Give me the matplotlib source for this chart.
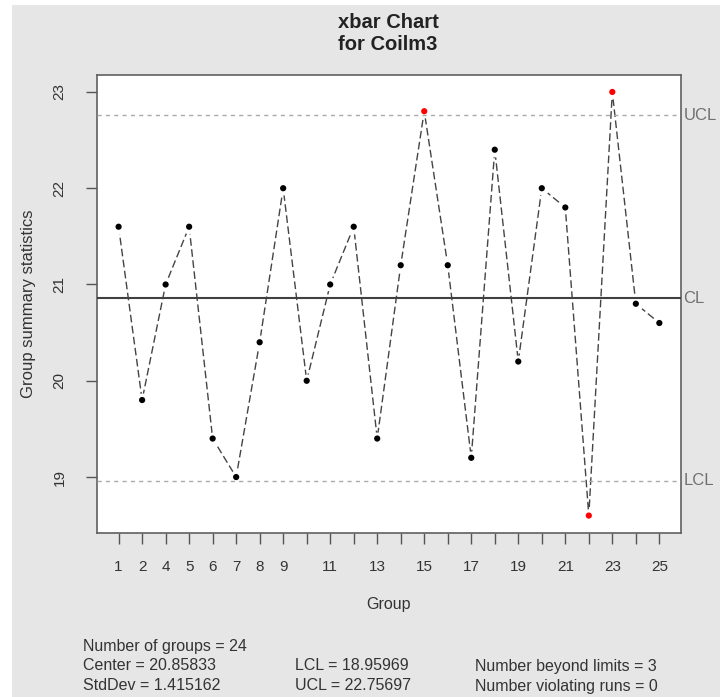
import matplotlib
matplotlib.use("Agg")
import matplotlib.pyplot as plt
from matplotlib.patches import Rectangle

plt.rcParams['font.family'] = ['Liberation Sans', 'DejaVu Sans']

# group numbers (group 3 is missing) and the group means
groups = [1, 2, 4, 5, 6, 7, 8, 9, 10, 11, 12, 13, 14, 15, 16, 17, 18, 19, 20, 21, 22, 23, 24, 25]
means = [21.6, 19.8, 21.0, 21.6, 19.4, 19.0, 20.4, 22.0, 20.0, 21.0, 21.6, 19.4,
         21.2, 22.8, 21.2, 19.2, 22.4, 20.2, 22.0, 21.8, 18.6, 23.0, 20.8, 20.6]
shown_labels = ['1', '2', '4', '5', '6', '7', '8', '9', '', '11', '', '13', '', '15',
                '', '17', '', '19', '', '21', '', '23', '', '25']

center = 20.85833
lcl = 18.95969
ucl = 22.75697
std_dev = 1.415162
n_beyond = 3
n_runs = 0

fig = plt.figure(figsize=(7.28, 6.97), dpi=100)
fig.patch.set_facecolor('white')
fig.patches.append(Rectangle((12 / 728, 0), (720 - 12) / 728, 1 - 5 / 697,
                             transform=fig.transFigure, facecolor='#e6e6e6',
                             edgecolor='none', zorder=-10))

ax = fig.add_axes([0.1332, 0.236, 0.8022, 0.6564])
ax.set_facecolor('white')

idx = list(range(1, len(groups) + 1))
ax.plot(idx, means, color='#444444', lw=1.0, ls=(0, (5.5, 2.5)), zorder=2)
# white discs leave the little gaps around each point, like R's type="b"
ax.plot(idx, means, ls='none', marker='o', ms=9, mfc='white', mec='white', zorder=2.1)

ax.axhline(center, color='#404040', lw=1.5, zorder=3)
ax.axhline(ucl, color='#aaaaaa', lw=1.0, ls=(0, (3, 3)), zorder=3)
ax.axhline(lcl, color='#aaaaaa', lw=1.0, ls=(0, (3, 3)), zorder=3)

colors = ['red' if (m > ucl or m < lcl) else 'black' for m in means]
ax.scatter(idx, means, s=20, c=colors, zorder=4, linewidths=0)

ax.set_xlim(0.08, len(groups) + 0.92)
ax.set_ylim(18.424, 23.176)
ax.set_xticks(idx)
ax.set_xticklabels(shown_labels)
ax.set_yticks([19, 20, 21, 22, 23])
ax.set_yticklabels(['19', '20', '21', '22', '23'], rotation=90, va='center')
ax.tick_params(axis='both', colors='#555555', labelcolor='#333333', labelsize=11,
               length=8, width=1, direction='out')
ax.tick_params(axis='x', pad=11.5)
ax.tick_params(axis='y', pad=14)
for s in ax.spines.values():
    s.set_color('#606060')
    s.set_linewidth(1.2)

ax.set_xlabel('Group', fontsize=11.5, color='#333333', labelpad=17)
ax.set_ylabel('Group summary statistics', fontsize=12, color='#333333', labelpad=12)

for val, lab in [(ucl, 'UCL'), (center, 'CL'), (lcl, 'LCL')]:
    ax.text(1.004, val, lab, transform=ax.get_yaxis_transform(), ha='left', va='center',
            fontsize=12, color='#707070')

fig.text(388 / 728, 1 - 22 / 697, 'xbar Chart', ha='center', va='center',
         fontsize=14.5, fontweight='bold', color='#222222')
fig.text(388 / 728, 1 - 45 / 697, 'for Coilm3', ha='center', va='center',
         fontsize=14.5, fontweight='bold', color='#222222')

txt = dict(fontsize=11.5, color='#333333', va='center', ha='left')
fig.text(83 / 728, 1 - 646 / 697, 'Number of groups = %d' % len(groups), **txt)
fig.text(83 / 728, 1 - 666 / 697, 'Center = %.5f' % center, **txt)
fig.text(83 / 728, 1 - 686 / 697, 'StdDev = %.6f' % std_dev, **txt)
fig.text(295 / 728, 1 - 666 / 697, 'LCL = %.5f' % lcl, **txt)
fig.text(295 / 728, 1 - 686 / 697, 'UCL = %.5f' % ucl, **txt)
fig.text(475 / 728, 1 - 666 / 697, 'Number beyond limits = %d' % n_beyond, **txt)
fig.text(475 / 728, 1 - 686 / 697, 'Number violating runs = %d' % n_runs, **txt)

fig.savefig('out.png', dpi=100, facecolor=fig.get_facecolor())
